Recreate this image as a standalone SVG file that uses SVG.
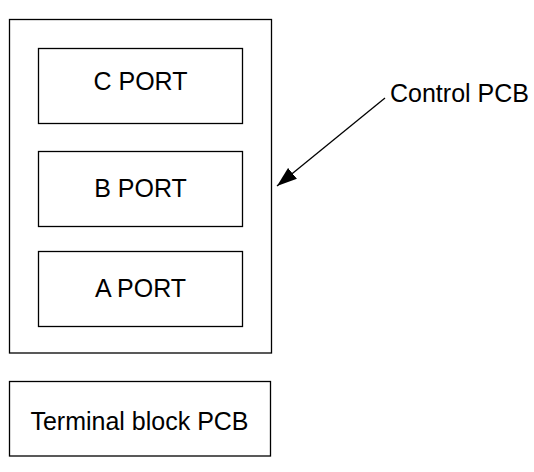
<svg xmlns="http://www.w3.org/2000/svg" width="534" height="472" viewBox="0 0 534 472">
<defs>
<style>
.box{fill:#fff;stroke:#000;stroke-width:1.3}
.t{font-family:"Liberation Sans",Arial,sans-serif;font-size:25px;fill:#000;text-anchor:middle}
.lbl{font-family:"Liberation Sans",Arial,sans-serif;font-size:25px;fill:#000}
</style>
<marker id="ah2" viewBox="0 0 20 14" markerWidth="20" markerHeight="14" refX="20" refY="7" orient="auto" markerUnits="userSpaceOnUse">
<path d="M0,0 L20,7 L0,14 z" fill="#000"/>
</marker>
</defs>
<rect width="534" height="472" fill="#fff"/>
<g id="control-pcb">
<rect class="box" x="9.5" y="19.5" width="262" height="333.5"/>
</g>
<g id="c-port">
<rect class="box" x="38.5" y="48.5" width="204" height="75"/>
<text class="t" x="140.5" y="90">C PORT</text>
</g>
<g id="b-port">
<rect class="box" x="38.5" y="151.5" width="204" height="75"/>
<text class="t" x="140.5" y="197">B PORT</text>
</g>
<g id="a-port">
<rect class="box" x="38.5" y="251.5" width="204" height="75"/>
<text class="t" x="140.5" y="297">A PORT</text>
</g>
<g id="terminal-block-pcb">
<rect class="box" x="9.5" y="381.5" width="261" height="74.5"/>
<text class="t" x="139.5" y="430">Terminal block PCB</text>
</g>
<g id="label-control-pcb">
<text class="lbl" x="390" y="102">Control PCB</text>
</g>
<g id="connectors">
<line x1="385" y1="98" x2="277" y2="186" stroke="#000" stroke-width="1.3" marker-end="url(#ah2)"/>
</g>
</svg>
